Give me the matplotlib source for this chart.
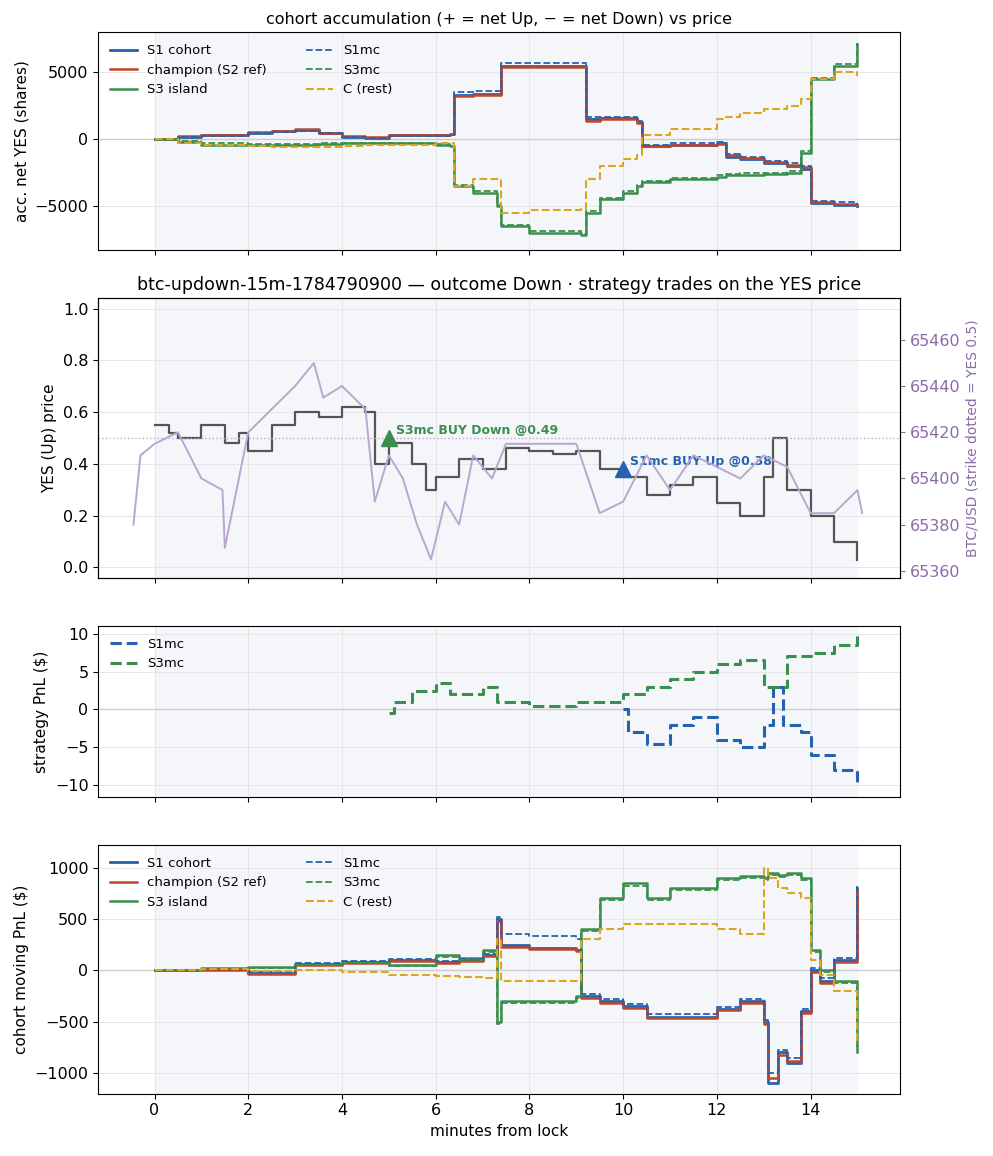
import numpy as np
import matplotlib.pyplot as plt

# ---- panel 1: accumulated net YES (shares) ----
t_acc = [0, 0.5, 1, 2, 2.5, 3, 3.5, 4, 4.5, 5, 6, 6.3, 6.4, 6.8, 7.3, 7.4, 8, 9.1, 9.2, 9.5,
         10, 10.3, 10.4, 11, 12, 12.2, 12.5, 13, 13.5, 13.8, 14, 14.5, 15]
acc_s1 = [0, 200, 300, 500, 600, 700, 500, 200, 100, 300, 300, 400, 3300, 3400, 3400, 5500, 5500,
          5500, 1500, 1600, 1600, 1300, -500, -400, -300, -1300, -1500, -1800, -2000, -2200, -4800, -4900, -5000]
acc_champ = [0, 250, 350, 550, 650, 750, 500, 250, 150, 300, 300, 400, 3200, 3300, 3300, 5400, 5400,
             5400, 1400, 1500, 1500, 1200, -500, -450, -350, -1200, -1400, -1700, -1900, -2100, -4700, -4850, -4950]
acc_s1mc = [0, 150, 250, 450, 550, 650, 450, 200, 100, 250, 250, 350, 3500, 3600, 3600, 5700, 5700,
            5700, 1700, 1700, 1700, 1400, -400, -300, -200, -1100, -1300, -1600, -1800, -2000, -4600, -4700, -4900]
acc_s3 = [0, -200, -400, -400, -400, -400, -350, -300, -300, -300, -400, -500, -3500, -4000, -5000, -6500,
          -7000, -7200, -5500, -4500, -4000, -3500, -3200, -3000, -2800, -2700, -2650, -2600, -2500, -1000, 4500, 5500, 7100]
acc_s3mc = [0, -150, -300, -350, -350, -350, -300, -250, -250, -250, -350, -450, -3400, -3900, -4900, -6400,
            -6900, -7100, -5400, -4400, -3900, -3400, -3100, -2900, -2700, -2600, -2550, -2500, -2400, -900, 4600, 5600, 7200]
acc_c = [0, -300, -400, -500, -550, -600, -550, -500, -450, -400, -300, -300, -3500, -3000, -3000, -5500,
         -5300, -5200, -3000, -2000, -1500, -1200, 300, 800, 1500, 1700, 2000, 2300, 2500, 3000, 4500, 5000, 4700]

# ---- panel 2: YES price and BTC ----
t_yes = [0, 0.3, 0.5, 1, 1.5, 1.8, 2, 2.5, 3, 3.5, 4, 4.5, 4.7, 5, 5.5, 5.8, 6, 6.5, 7, 7.5, 8, 8.5,
         9, 9.5, 10, 10.5, 11, 11.5, 12, 12.5, 13, 13.2, 13.5, 14, 14.5, 15]
yes_px = [0.55, 0.52, 0.5, 0.55, 0.48, 0.52, 0.45, 0.55, 0.6, 0.58, 0.62, 0.6, 0.4, 0.48, 0.4, 0.3, 0.35,
          0.42, 0.38, 0.46, 0.45, 0.44, 0.45, 0.38, 0.35, 0.28, 0.32, 0.35, 0.25, 0.2, 0.35, 0.5, 0.3, 0.2, 0.1, 0.03]
t_btc = [-0.45, -0.3, 0, 0.5, 1, 1.45, 1.5, 2, 2.5, 3, 3.4, 3.6, 4, 4.5, 4.7, 5, 5.3, 5.6, 5.9, 6.2, 6.5,
         6.8, 7.2, 7.5, 8, 9, 9.5, 10, 10.5, 11, 11.5, 12, 12.5, 13, 13.5, 14, 14.5, 15, 15.1]
btc = [65380, 65410, 65415, 65420, 65400, 65395, 65370, 65420, 65430, 65440, 65450, 65435, 65440, 65430,
       65390, 65410, 65400, 65380, 65365, 65390, 65380, 65410, 65400, 65415, 65415, 65415, 65385, 65390,
       65410, 65395, 65410, 65405, 65400, 65410, 65405, 65385, 65385, 65395, 65385]
strike_yes = 0.5
trades = [("S3mc BUY Down @0.49", 5.0, 0.5, "#3a8f4e"), ("S1mc BUY Up @0.38", 10.0, 0.38, "#2563b0")]

# ---- panel 3: strategy PnL ----
t_s3mc = [5, 5.1, 5.5, 6, 6.3, 7, 7.3, 8, 9, 10, 10.5, 11, 11.5, 12, 12.5, 13, 13.5, 14, 14.5, 15]
pnl_s3mc = [-0.5, 1, 2.5, 3.5, 2, 3, 1, 0.5, 1, 2, 3, 4, 5, 6, 6.5, 3, 7, 7.5, 8.5, 10]
t_s1mc = [10, 10.1, 10.5, 11, 11.5, 12, 12.5, 13, 13.2, 13.4, 13.8, 14, 14.5, 15]
pnl_s1mc = [0, -3, -4.5, -2, -1, -4, -5, -2, 3, -2, -3, -6, -8, -10]

# ---- panel 4: cohort moving PnL ----
t_mv = [0, 1, 2, 3, 4, 5, 6, 6.5, 7, 7.3, 7.4, 8, 9, 9.1, 9.5, 10, 10.5, 11, 12, 12.5, 13, 13.1,
        13.3, 13.5, 13.8, 14, 14.2, 14.5, 15]
mv_s1 = [0, 10, -30, 60, 80, 100, 80, 100, 150, 500, 250, 220, 200, -250, -300, -350, -450, -450, -380,
         -300, -500, -1100, -800, -900, -400, 0, -100, 100, 800]
mv_champ = [0, 5, -40, 50, 70, 90, 70, 90, 140, 480, 230, 210, 190, -270, -320, -370, -460, -460, -390,
            -320, -520, -1050, -820, -880, -420, -20, -120, 80, 780]
mv_s1mc = [0, 15, -20, 70, 90, 110, 90, 110, 160, 520, 350, 330, 300, -230, -280, -330, -430, -430, -360,
           -280, -480, -1000, -780, -850, -380, 20, -80, 120, 820]
mv_s3 = [0, 20, 30, 60, 80, 50, 150, 120, 200, -500, -300, -300, -250, 400, 700, 850, 700, 800, 900, 920,
         900, 950, 930, 950, 900, 200, 0, -100, -800]
mv_s3mc = [0, 15, 20, 50, 70, 40, 130, 100, 180, -520, -320, -320, -270, 380, 680, 820, 680, 780, 880, 900,
           880, 930, 910, 930, 880, 180, -20, -120, -750]
mv_c = [0, 10, -10, 0, -20, -50, -60, -70, -80, 300, -100, -100, -100, 300, 400, 450, 450, 450, 400, 350,
        1000, 900, 800, 750, 700, 100, -50, -200, -700]

BLUE, RED, GREEN, ORANGE = "#2563b0", "#c0452a", "#3a8f4e", "#dba520"
SHADE = "#f4f6fa"

fig, axes = plt.subplots(4, 1, figsize=(9.93, 11.56), dpi=100, sharex=True,
                         gridspec_kw={"height_ratios": [218, 280, 171, 249]})
fig.subplots_adjust(left=0.099, right=0.906, top=0.972, bottom=0.054, hspace=0.21)


def base(ax):
    ax.axvspan(0, 15, color=SHADE, zorder=0)
    ax.grid(True, color="#e6e6e6", lw=0.7)
    ax.set_axisbelow(True)


def cohort(ax, t, s1, ch, s3, s1mc, s3mc, c):
    ax.axhline(0, color="#cccccc", lw=1)
    ax.step(t, s1, where="post", color=BLUE, lw=2, label="S1 cohort")
    ax.step(t, ch, where="post", color=RED, lw=1.8, label="champion (S2 ref)")
    ax.step(t, s3, where="post", color=GREEN, lw=1.8, label="S3 island")
    ax.step(t, s1mc, where="post", color=BLUE, lw=1.3, ls="--", label="S1mc")
    ax.step(t, s3mc, where="post", color=GREEN, lw=1.3, ls="--", label="S3mc")
    ax.step(t, c, where="post", color=ORANGE, lw=1.5, ls="--", label="C (rest)")
    ax.legend(loc="upper left", ncol=2, frameon=False, fontsize=9.5, columnspacing=3)


ax1, ax2, ax3, ax4 = axes
base(ax1)
cohort(ax1, t_acc, acc_s1, acc_champ, acc_s3, acc_s1mc, acc_s3mc, acc_c)
ax1.set_ylim(-8300, 8000)
ax1.set_ylabel("acc. net YES (shares)", fontsize=11)
ax1.set_title("cohort accumulation (+ = net Up, \u2212 = net Down) vs price", fontsize=11.5)

base(ax2)
ax2.step(t_yes, yes_px, where="post", color="#555555", lw=1.6)
ax2.axhline(strike_yes, color="#b9a7d0", lw=1, ls=":")
ax2.set_ylim(-0.04, 1.04)
ax2.set_ylabel("YES (Up) price", fontsize=11)
ax2.set_title("btc-updown-15m-1784790900 \u2014 outcome Down \u00b7 strategy trades on the YES price", fontsize=12.5)
ax2r = ax2.twinx()
ax2r.plot(t_btc, btc, color="#b9a7d0", lw=1.4)
ax2r.set_ylim(65357, 65478)
ax2r.set_ylabel("BTC/USD (strike dotted = YES 0.5)", color="#8a6ca8", fontsize=10)
ax2r.tick_params(axis="y", colors="#8a6ca8", labelsize=11.5)
for lbl, tx, ty, col in trades:
    ax2.plot(tx, ty, marker="^", ms=12, color=col, zorder=5)
    ax2.annotate(lbl, (tx, ty), xytext=(5, 3), textcoords="offset points",
                 color=col, fontsize=9, fontweight="bold", zorder=6)

base(ax3)
ax3.axhline(0, color="#cccccc", lw=1)
ax3.step(t_s1mc, pnl_s1mc, where="post", color=BLUE, lw=2.2, ls="--", label="S1mc")
ax3.step(t_s3mc, pnl_s3mc, where="post", color=GREEN, lw=2.2, ls="--", label="S3mc")
ax3.set_ylim(-11.5, 11)
ax3.set_ylabel("strategy PnL ($)", fontsize=11)
ax3.legend(loc="upper left", frameon=False, fontsize=9.5)

base(ax4)
cohort(ax4, t_mv, mv_s1, mv_champ, mv_s3, mv_s1mc, mv_s3mc, mv_c)
ax4.set_ylim(-1200, 1220)
ax4.set_ylabel("cohort moving PnL ($)", fontsize=11)
ax4.set_xlabel("minutes from lock", fontsize=11)
ax4.set_xlim(-1.2, 15.9)
ax4.set_xticks([0, 2, 4, 6, 8, 10, 12, 14])

for ax in axes:
    ax.tick_params(labelsize=11.5)

fig.savefig("out.png")
